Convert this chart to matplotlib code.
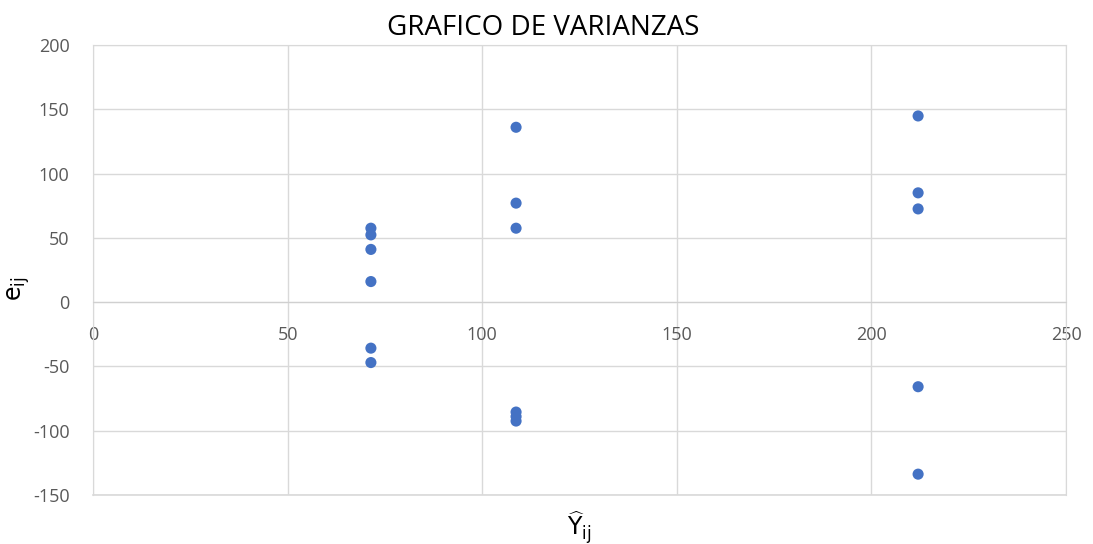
import matplotlib
matplotlib.use("Agg")
import matplotlib.pyplot as plt

x_fitted = [71.4, 71.4, 71.4, 71.4, 71.4, 71.4,
            108.7, 108.7, 108.7, 108.7, 108.7, 108.7,
            212.0, 212.0, 212.0, 212.0, 212.0]
residuals = [57.5, 52.3, 41.0, 16.0, -35.8, -47.0,
             136.0, 77.0, 57.5, -85.5, -89.0, -92.5,
             144.8, 85.0, 72.5, -65.8, -133.8]

title = "GRAFICO DE VARIANZAS"
xticks = [0, 50, 100, 150, 200, 250]
yticks = [-150, -100, -50, 0, 50, 100, 150, 200]

plt.rcParams['font.family'] = ['Open Sans', 'DejaVu Sans']
plt.rcParams['axes.unicode_minus'] = False

fig = plt.figure(figsize=(10.93, 5.44), dpi=100)
ax = fig.add_axes([0.0851, 0.0901, 0.8902, 0.8272])

ax.set_xlim(0, 250)
ax.set_ylim(-150, 200)
ax.set_xticks(xticks)
ax.set_yticks(yticks)
ax.grid(True, color='#d9d9d9', linewidth=1)
ax.set_axisbelow(True)
ax.axhline(-150, color='#d9d9d9', linewidth=1.2, zorder=0.5, clip_on=False)

for s in ['top', 'right', 'left']:
    ax.spines[s].set_color('#d9d9d9')
ax.spines['bottom'].set_position(('data', 0))
ax.spines['bottom'].set_color('#d0d0d0')

ax.tick_params(axis='both', length=0, labelsize=13, labelcolor='#595959')
ax.tick_params(axis='x', pad=17)
ax.tick_params(axis='y', pad=17)

ax.scatter(x_fitted, residuals, s=64, color='#4472C4', zorder=3, edgecolors='none')

fig.text(0.497, 0.948, title, fontsize=20, color='#000000', ha='center', va='center')
fig.text(0.017, 0.47, r'$\mathrm{e}_{\mathrm{ij}}$', fontsize=17, rotation=90,
         ha='center', va='center')
fig.text(0.530, 0.030, r'$\widehat{\mathrm{Y}}_{\mathrm{ij}}$', fontsize=17,
         ha='center', va='center')

fig.savefig('out.png', dpi=100)
